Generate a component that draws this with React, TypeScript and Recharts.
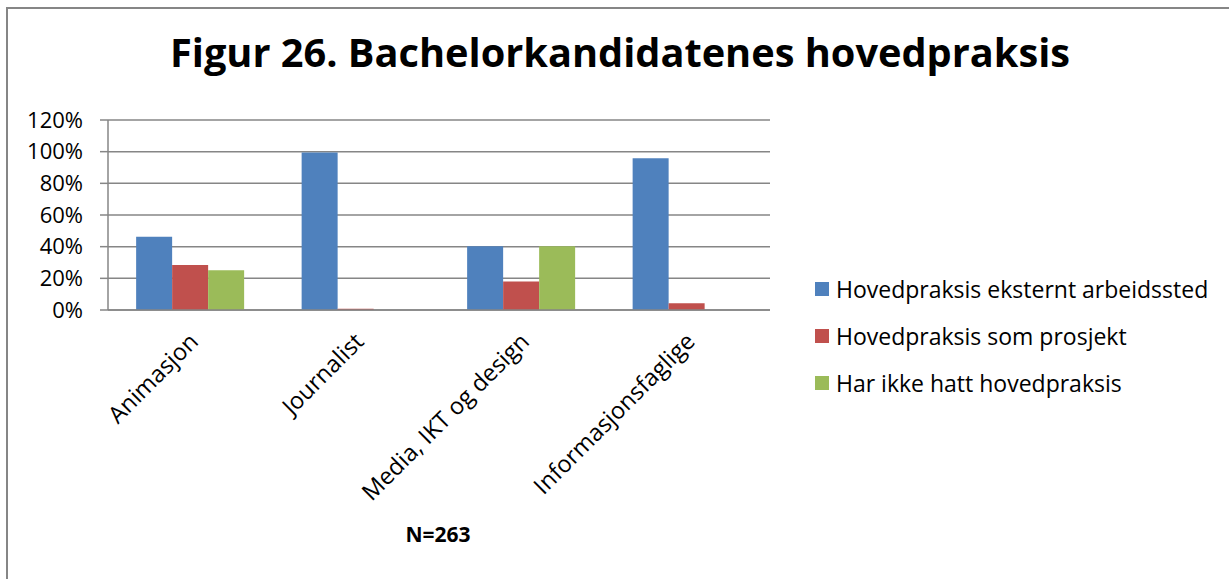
import { BarChart, Bar, XAxis, YAxis, CartesianGrid } from 'recharts';

const categories = ['Animasjon', 'Journalist', 'Media, IKT og design', 'Informasjonsfaglige'];
const eksternt = [46.3, 99.4, 40.2, 95.8];
const prosjekt = [28.5, 0.8, 18.0, 4.2];
const ikkeHatt = [25.1, 0, 40.2, 0];
const yTicks = [0, 20, 40, 60, 80, 100, 120];

const seriesNames = [
  'Hovedpraksis eksternt arbeidssted',
  'Hovedpraksis som prosjekt',
  'Har ikke hatt hovedpraksis',
];
const colors = ['#4F81BD', '#C0504D', '#9BBB59'];

const data = categories.map((name, i) => ({
  name,
  eksternt: eksternt[i],
  prosjekt: prosjekt[i],
  ikkeHatt: ikkeHatt[i],
}));

const font = '"Open Sans", sans-serif';

const XTick = (props: any) => {
  const { x, y, payload } = props;
  const tx = x + 9;
  const ty = y + 25;
  return (
    <text
      x={tx}
      y={ty}
      transform={`rotate(-45, ${tx}, ${ty})`}
      textAnchor="end"
      fontSize={23.5}
      fontFamily={font}
      fill="#000"
    >
      {payload.value}
    </text>
  );
};

export default function App() {
  return (
    <div style={{ position: 'absolute', left: 0, top: 0, width: 1229, height: 579, background: '#fff', overflow: 'hidden' }}>
      <div style={{ position: 'absolute', left: 6, top: 7, width: 1240, height: 600, border: '2px solid #868686' }} />
      <svg style={{ position: 'absolute', left: 0, top: 0 }} width={1229} height={579}>
        <text x={620} y={67} textAnchor="middle" fontFamily={font} fontWeight={700} fontSize={40} textLength={900} lengthAdjust="spacingAndGlyphs">
          Figur 26. Bachelorkandidatenes hovedpraksis
        </text>
        <text x={438} y={542} textAnchor="middle" fontFamily={font} fontWeight={700} fontSize={21}>
          N=263
        </text>
      </svg>
      <div style={{ position: 'absolute', left: 0, top: 0 }}>
        <BarChart
          width={1229}
          height={579}
          data={data}
          margin={{ top: 120, right: 459, left: 0, bottom: 0 }}
          barGap={0}
          barCategoryGap="17%"
        >
          <CartesianGrid vertical={false} stroke="#868686" strokeWidth={1.5} />
          <XAxis
            dataKey="name"
            height={269}
            interval={0}
            tick={<XTick />}
            tickLine={false}
            axisLine={{ stroke: '#868686', strokeWidth: 1.5 }}
          />
          <YAxis
            width={108}
            domain={[0, 120]}
            ticks={yTicks}
            interval={0}
            tickFormatter={(v) => `${v}%`}
            tick={{ fontSize: 22, fontFamily: font, fill: '#000' }}
            tickSize={8}
            tickMargin={17}
            tickLine={{ stroke: '#868686', strokeWidth: 1.5 }}
            axisLine={{ stroke: '#868686', strokeWidth: 1.5 }}
          />
          <Bar dataKey="eksternt" name={seriesNames[0]} fill={colors[0]} isAnimationActive={false} />
          <Bar dataKey="prosjekt" name={seriesNames[1]} fill={colors[1]} isAnimationActive={false} />
          <Bar dataKey="ikkeHatt" name={seriesNames[2]} fill={colors[2]} isAnimationActive={false} />
        </BarChart>
      </div>
      <div style={{ position: 'absolute', left: 815, top: 265, fontFamily: font, fontSize: 23, color: '#000' }}>
        {seriesNames.map((n, i) => (
          <div key={n} style={{ display: 'flex', alignItems: 'center', height: 47, whiteSpace: 'nowrap' }}>
            <span style={{ width: 14, height: 14, background: colors[i], marginRight: 7, display: 'inline-block' }} />
            {n}
          </div>
        ))}
      </div>
    </div>
  );
}
